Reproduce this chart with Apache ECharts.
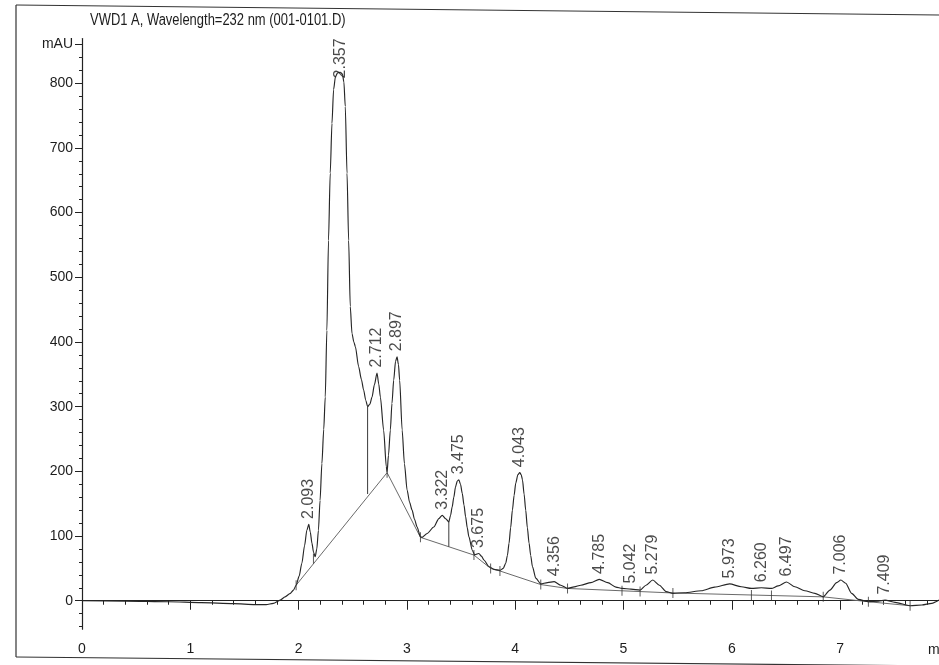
<!DOCTYPE html>
<html><head><meta charset="utf-8">
<script src="https://cdn.jsdelivr.net/npm/echarts@6/dist/echarts.min.js"></script>
<style>html,body{margin:0;padding:0;background:#fff}#c{width:939px;height:665px}</style>
</head><body><div id="c"></div>
<script>
// ---- data ----
const traceTime = [0.00,0.40,0.80,1.10,1.40,1.60,1.70,1.767,1.83,1.875,1.92,1.953,1.977,2.005,2.03,2.055,2.076,2.094,2.108,2.123,2.138,2.153,2.168,2.183,2.198,2.215,2.232,2.246,2.261,2.276,2.292,2.308,2.323,2.34,2.36,2.385,2.405,2.418,2.431,2.447,2.462,2.477,2.493,2.51,2.524,2.554,2.58,2.60,2.62,2.637,2.658,2.678,2.70,2.724,2.74,2.755,2.785,2.81,2.817,2.83,2.847,2.862,2.878,2.895,2.909,2.922,2.933,2.956,2.977,3.002,3.025,3.048,3.07,3.094,3.125,3.14,3.187,3.248,3.295,3.326,3.356,3.387,3.403,3.418,3.433,3.449,3.465,3.48,3.495,3.511,3.527,3.542,3.557,3.572,3.604,3.625,3.645,3.665,3.688,3.711,3.757,3.804,3.859,3.89,3.912,3.928,3.943,3.958,3.974,3.99,4.005,4.025,4.042,4.055,4.067,4.082,4.097,4.112,4.128,4.143,4.159,4.19,4.236,4.298,4.36,4.421,4.483,4.544,4.606,4.699,4.776,4.854,4.93,4.986,5.069,5.153,5.208,5.27,5.331,5.394,5.456,5.563,5.718,5.841,5.98,6.088,6.181,6.273,6.366,6.428,6.505,6.582,6.674,6.767,6.844,6.906,6.968,7.007,7.051,7.106,7.168,7.261,7.354,7.415,7.507,7.646,7.755,7.847,7.913];
const traceSignal = [0,-0.5,-1.5,-3,-4.5,-6,-6,-4,1,6,11,16.5,24,38,58,85,109,118,106,89,75,68,80,109,155,212,265,315,418,557,661,738,790,810,816,817,814,802,764,661,557,455,413,400,393,362,342,326,310,300,304,315,334,352,335,315,264,207,199,225,264,305,341,370,377,365,341,264,212,171,152,140,126,114,99,98,104,114,127,132,127,122,132,145,160,176,185,187,180,166,148,130,113,99,78,71,72,73,69,63,53,48.5,47,50,58,70,89,113,140,163,182,195,198,195,187,165,140,113,89,70,53,35,26,28,29.5,24,19,21.5,24,28,33,28,21,19,18,16.5,24,32,24,14,11.4,12.4,15.5,21,26,21.6,19,20,19,23,29,21.6,15.5,11.4,6,16.5,28,32,27,11.4,2,-1.5,-0.5,1,-2.5,-7.7,-6.6,-4,1];

const peakLabels = ['2.093','2.357','2.712','2.897','3.322','3.475','3.675','4.043','4.356','4.785','5.042','5.279','5.973','6.260','6.497','7.006','7.409'];
const peakApexTime = [2.094,2.385,2.724,2.909,3.326,3.480,3.665,4.042,4.360,4.776,5.062,5.270,5.980,6.278,6.505,7.007,7.415];
const peakApexSignal = [118,817,352,377,132,187,73,198,29.5,33,18,32,26,20,29,32,1];

// integration baselines (segments)
const baselineSegTime = [[1.977,2.817,3.125],[3.125,3.619,3.773,3.859,4.236],[4.236,4.483],[4.483,5.456,6.844],[6.844,7.261],[7.261,7.646]];
const baselineSegSignal = [[24,198,98],[98,70.6,50,46,25],[25,19],[19,12,6],[6,-1.5],[-1.5,-7.7]];
// drop lines
const dropTime = [2.637,3.387];
const dropTop = [300,122];
const dropBottom = [165,83.5];
// integration event marks
const markTime = [1.977,2.137,2.817,3.125,3.619,3.773,3.859,4.236,4.483,4.986,5.153,5.456,6.181,6.366,6.844,7.261,7.646];
const markSignal = [24,65,198,98,70.6,50,46,25,19,15.4,14.2,12,8.9,8.1,6,-1.5,-7.7];

// axes
const xMin = 0, xMax = 7.913;
const yMin = -44, yMax = 869;
const xMajor = [0,1,2,3,4,5,6,7];
const xMinor = [];
for (let i = 0; i <= 39; i++) xMinor.push(+(i*0.2).toFixed(1));
const yMajor = [0,100,200,300,400,500,600,700,800];
const yUnitTick = 860;
const yMinor = [];
for (let v = -40; v <= 860; v += 20) yMinor.push(v);

const SANS = "'Liberation Sans',Arial,sans-serif";
const INK = '#1c1c1c';

const chart = echarts.init(document.getElementById('c'), null, {renderer:'canvas'});

const series = [];
series.push({
  type:'line', xAxisIndex:0, yAxisIndex:0, data: traceTime.map((t,i)=>[t,traceSignal[i]]),
  showSymbol:false, smooth:0.25, smoothMonotone:'x', silent:true,
  lineStyle:{color:'#262626', width:1.15}, z:5
});
baselineSegTime.forEach((seg,k)=>{
  series.push({type:'line', xAxisIndex:0, yAxisIndex:0, data: seg.map((t,i)=>[t,baselineSegSignal[k][i]]),
    showSymbol:false, silent:true, lineStyle:{color:'#6a6a6a', width:1}, z:4});
});
dropTime.forEach((t,k)=>{
  series.push({type:'line', xAxisIndex:0, yAxisIndex:0, data:[[t,dropTop[k]],[t,dropBottom[k]]],
    showSymbol:false, silent:true, lineStyle:{color:'#3a3a3a', width:1}, z:4});
});
series.push({
  type:'scatter', xAxisIndex:0, yAxisIndex:0, data: markTime.map((t,i)=>[t,markSignal[i]]),
  symbol:'rect', symbolSize:[1,10], itemStyle:{color:'#333'}, silent:true, z:6
});
// peak labels; a label that would leave the plot at the top is pushed down
const labelSpan = 70;
series.push({
  type:'scatter', xAxisIndex:0, yAxisIndex:0,
  data: peakLabels.map((s,i)=>({name:s, value:[peakApexTime[i], Math.min(peakApexSignal[i], yMax - labelSpan)]})),
  symbolSize:1, itemStyle:{color:'rgba(0,0,0,0)'}, silent:true, z:7,
  label:{show:true, position:'top', distance:5, rotate:90, align:'left', verticalAlign:'middle',
    formatter:p=>p.name, fontFamily:SANS, fontSize:16, color:INK}
});

chart.setOption({
  animation:false,
  backgroundColor:'#ffffff',
  grid:{left:82, right:0, top:38.6, bottom:35.8, containLabel:false},
  xAxis:[
    {type:'value', min:xMin, max:xMax, position:'bottom',
      axisLine:{show:true, lineStyle:{color:'#222', width:1.2}},
      axisTick:{show:true, customValues:xMajor, length:9, inside:false, lineStyle:{color:'#222'}},
      axisLabel:{show:true, customValues:xMajor, margin:13, fontFamily:SANS, fontSize:14, color:INK},
      splitLine:{show:false}},
    {type:'value', min:xMin, max:xMax, position:'bottom',
      axisLine:{show:false},
      axisTick:{show:true, customValues:xMinor, length:4, lineStyle:{color:'#222'}},
      axisLabel:{show:false}, splitLine:{show:false}}
  ],
  yAxis:[
    {type:'value', min:yMin, max:yMax, position:'left',
      axisLine:{show:true, lineStyle:{color:'#222', width:1.2}},
      axisTick:{show:true, customValues:yMajor.concat([yUnitTick]), length:7, lineStyle:{color:'#222'}},
      axisLabel:{show:true, customValues:yMajor.concat([yUnitTick]), margin:9, fontFamily:SANS, fontSize:14, color:INK,
        hideOverlap:false, formatter:v=> v===yUnitTick ? 'mAU' : String(v)},
      splitLine:{show:false}},
    {type:'value', min:yMin, max:yMax, position:'left',
      axisLine:{show:false},
      axisTick:{show:true, customValues:yMinor, length:3, lineStyle:{color:'#222'}},
      axisLabel:{show:false}, splitLine:{show:false}}
  ],
  graphic:[
    {type:'text', silent:true, x:90, y:21, scaleX:0.81, style:{x:0, y:0, text:'VWD1 A, Wavelength=232 nm (001-0101.D)', verticalAlign:'middle', fontFamily:SANS, fontSize:16, fill:INK}},
    {type:'polyline', silent:true, shape:{points:[[16,5],[939,15]]}, style:{stroke:'#333', lineWidth:1.2, fill:null}},
    {type:'polyline', silent:true, shape:{points:[[16,5],[16,657]]}, style:{stroke:'#333', lineWidth:1.2, fill:null}},
    {type:'polyline', silent:true, shape:{points:[[16,657],[939,666]]}, style:{stroke:'#333', lineWidth:1.2, fill:null}},
    {type:'text', silent:true, x:928, y:650, style:{x:0, y:0, text:'min', verticalAlign:'middle', fontFamily:SANS, fontSize:14, fill:INK}}
  ],
  series: series
});
</script>
</body></html>
